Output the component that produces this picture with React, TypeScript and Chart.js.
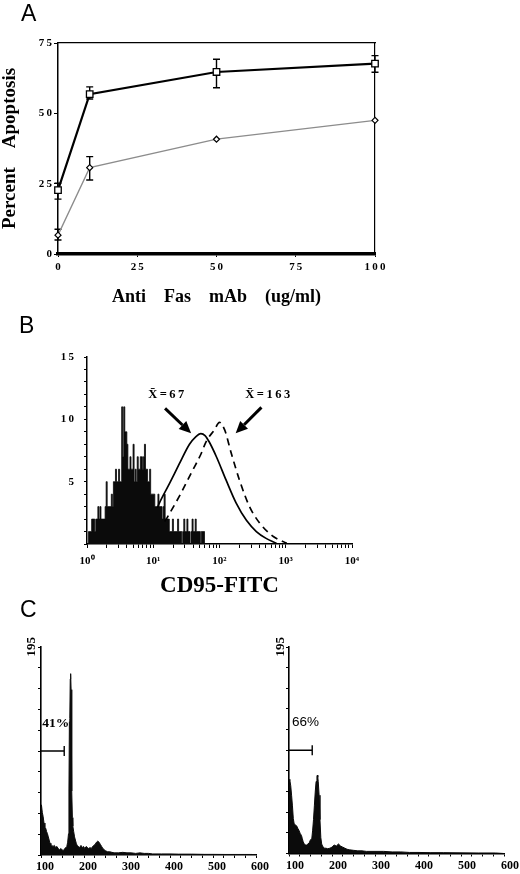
import React, { useEffect, useRef } from 'react';
import { Chart, registerables } from 'chart.js';

Chart.register(...registerables);

const SERIF = "'Liberation Serif', 'Times New Roman', serif";
const SANS = "'Liberation Sans', Arial, sans-serif";

// ---------------- Panel A: percent apoptosis vs anti-Fas mAb dose
const doseUgMl = [0, 10, 50, 100];
const apoptosisSquare = [22.7, 56.8, 64.7, 67.7];
const apoptosisSquareLow = [19.5, 55.1, 59.1, 64.6];
const apoptosisSquareHigh = [25.2, 59.4, 69.2, 70.5];
const apoptosisDiamond = [6.7, 30.7, 40.8, 47.5];
const apoptosisDiamondLow = [5.0, 26.3, null, null];
const apoptosisDiamondHigh = [8.8, 34.6, null, null];

// ---------------- Panel B: CD95-FITC histogram (channel units, 64 channels per decade)
const CH_PER_DECADE = 64;
const decadeLabels = ['10\u2070', '10\u00B9', '10\u00B2', '10\u00B3', '10\u2074'];
const isotypeCounts = [
  0, 0, 1, 1, 1, 2, 2, 2, 1, 2, 2, 3, 2, 3, 2, 2, 2, 2, 3, 5,
  3, 3, 3, 3, 4, 3, 5, 5, 6, 5, 5, 6, 5, 5, 11, 7, 11, 9, 9, 8,
  6, 6, 7, 6, 6, 8, 5, 6, 5, 7, 6, 6, 7, 7, 6, 7, 8, 6, 6, 5,
  5, 6, 4, 4, 4, 4, 3, 3, 3, 4, 3, 3, 3, 2, 3, 4, 2, 2, 2, 2,
  1, 1, 1, 2, 1, 1, 1, 1, 2, 1, 1, 1, 0, 1, 2, 1, 1, 2, 1, 1,
  0, 1, 2, 1, 1, 2, 1, 1, 1, 1, 0, 1, 1, 1, 0,
];
const solidCurveCh = [68, 70, 80, 89, 99, 105, 110, 114, 118, 125, 134.5, 144, 154, 163.6, 173, 183];
const solidCurveVal = [2.9, 3.3, 4.9, 6.4, 8.0, 8.6, 8.85, 8.7, 8.2, 7.0, 5.1, 3.3, 1.9, 1.0, 0.45, 0.05];
const dashedCurveCh = [75, 78, 89, 102, 110, 115, 123, 128, 133, 139.3, 147.4, 157, 167, 180, 193];
const dashedCurveVal = [1.8, 2.2, 3.8, 5.9, 7.2, 8.2, 9.15, 9.75, 9.15, 7.3, 5.1, 3.0, 1.66, 0.6, 0.05];
const meanNotes = [
  { text: 'X\u0304\u2009=\u20096\u20097', at: [76.6, 11.95], tail: [75.4, 10.88], tip: [100.6, 8.88] },
  { text: 'X\u0304\u2009=\u20091\u20096\u20093', at: [174.6, 11.95], tail: [168.5, 10.96], tip: [143.6, 8.88] },
];

// ---------------- Panel C: DNA content histograms
const dnaLeftCh = [100, 101, 103, 105, 107, 109, 111, 113, 115, 117, 119, 121, 123, 125, 128, 131, 134, 137, 140, 143, 146, 149, 152, 155, 158, 160, 162, 164, 165, 166, 167, 168, 169, 170, 171, 172, 173, 174, 176, 178, 180, 182, 184, 187, 190, 193, 196, 199, 202, 205, 208, 211, 214, 217, 220, 223, 226, 229, 232, 235, 238, 241, 244, 247, 250, 255, 260, 265, 270, 280, 290, 300, 310, 320, 330, 340, 350, 360, 380, 400, 420, 450, 480, 500, 530, 560, 590, 600];
const dnaLeftCounts = [45, 47, 40, 36, 30, 24, 25, 22, 20, 17, 14, 11, 10, 9, 8, 9, 7, 8, 6, 5, 6, 5, 4, 6, 7, 8, 12, 20, 60, 125, 128, 165, 170, 155, 110, 60, 35, 27, 22, 17, 14, 11, 9, 8, 7, 9, 7, 8, 6, 8, 7, 6, 7, 6, 8, 9, 10, 12, 13, 12, 10, 8, 6, 5, 4, 3, 3, 2.5, 2, 2, 2.5, 2, 2, 1.5, 2, 1.5, 1.5, 1, 1, 1, 0.8, 0.8, 0.6, 0.6, 0.5, 0.5, 0.5, 0];
const dnaRightCh = [100, 102, 104, 106, 108, 110, 112, 115, 118, 120, 123, 126, 129, 131, 133, 135, 138, 141, 144, 147, 150, 153, 155, 157, 159, 161, 163, 165, 166, 167, 168, 170, 172, 174, 176, 178, 182, 186, 190, 195, 200, 205, 210, 215, 220, 225, 230, 235, 240, 250, 260, 270, 280, 300, 320, 340, 360, 380, 400, 430, 460, 500, 540, 580, 600];
const dnaRightCounts = [70, 69, 64, 55, 45, 33, 28, 27, 26, 24, 22, 19, 17, 14, 11, 9.5, 8, 8, 9, 10, 13, 14, 22, 32, 45, 58, 68, 73, 74, 72, 68, 55, 32, 15, 9, 7, 5, 5, 4.5, 5, 6, 8, 7, 9, 7, 6, 5, 4, 3.5, 3, 2.5, 2.5, 2, 2, 2, 1.5, 1.5, 1, 1, 0.8, 0.8, 0.6, 0.5, 0.5, 0];
const gateLeft = { from: 100, to: 154, level: 97.5, label: '41%', labelAt: [103, 123] };
const gateRight = { from: 100, to: 154, level: 97.5, label: '66%', labelAt: [107, 124] };

const spaced = (v: number | string) => String(v).split('').join('\u2009');
const bold = (size: number) => ({ family: SERIF, size, weight: 'bold' as const });

const errorBarPlugin = {
  id: 'errorBars',
  beforeDatasetsDraw(chart: any) {
    const { ctx } = chart;
    const y = chart.scales.y;
    chart.data.datasets.forEach((ds: any, di: number) => {
      if (!ds.errLow) return;
      const meta = chart.getDatasetMeta(di);
      ctx.save();
      ctx.strokeStyle = '#000';
      ctx.lineWidth = 1.4;
      meta.data.forEach((pt: any, i: number) => {
        const lo = ds.errLow[i];
        const hi = ds.errHigh[i];
        if (lo == null || hi == null) return;
        const yl = y.getPixelForValue(lo);
        const yh = y.getPixelForValue(hi);
        ctx.beginPath();
        ctx.moveTo(pt.x, yl);
        ctx.lineTo(pt.x, yh);
        ctx.moveTo(pt.x - 3.5, yl);
        ctx.lineTo(pt.x + 3.5, yl);
        ctx.moveTo(pt.x - 3.5, yh);
        ctx.lineTo(pt.x + 3.5, yh);
        ctx.stroke();
      });
      ctx.restore();
    });
  },
};

const meanNotePlugin = {
  id: 'meanNotes',
  afterDatasetsDraw(chart: any) {
    const { ctx } = chart;
    const xs = chart.scales.x;
    const ys = chart.scales.y;
    ctx.save();
    meanNotes.forEach((n) => {
      ctx.font = `bold 12.5px ${SERIF}`;
      ctx.fillStyle = '#000';
      ctx.textAlign = 'center';
      ctx.textBaseline = 'middle';
      ctx.fillText(n.text, xs.getPixelForValue(n.at[0]), ys.getPixelForValue(n.at[1]));
      const x0 = xs.getPixelForValue(n.tail[0]);
      const y0 = ys.getPixelForValue(n.tail[1]);
      const x1 = xs.getPixelForValue(n.tip[0]);
      const y1 = ys.getPixelForValue(n.tip[1]);
      const ang = Math.atan2(y1 - y0, x1 - x0);
      const headLen = 12;
      const headHalf = 5.5;
      const bx = x1 - headLen * Math.cos(ang);
      const by = y1 - headLen * Math.sin(ang);
      ctx.strokeStyle = '#000';
      ctx.lineWidth = 3;
      ctx.beginPath();
      ctx.moveTo(x0, y0);
      ctx.lineTo(bx, by);
      ctx.stroke();
      ctx.beginPath();
      ctx.moveTo(x1, y1);
      ctx.lineTo(bx + headHalf * Math.sin(ang), by - headHalf * Math.cos(ang));
      ctx.lineTo(bx - headHalf * Math.sin(ang), by + headHalf * Math.cos(ang));
      ctx.closePath();
      ctx.fill();
    });
    ctx.restore();
  },
};

const makeGatePlugin = (gate: any, font: string) => ({
  id: 'gate',
  afterDatasetsDraw(chart: any) {
    const { ctx } = chart;
    const xs = chart.scales.x;
    const ys = chart.scales.y;
    const x0 = xs.getPixelForValue(gate.from);
    const x1 = xs.getPixelForValue(gate.to);
    const yy = ys.getPixelForValue(gate.level);
    ctx.save();
    ctx.strokeStyle = '#000';
    ctx.lineWidth = 1.4;
    ctx.beginPath();
    ctx.moveTo(x0, yy);
    ctx.lineTo(x1, yy);
    ctx.moveTo(x1, yy - 5);
    ctx.lineTo(x1, yy + 5);
    ctx.stroke();
    ctx.font = font;
    ctx.fillStyle = '#000';
    ctx.textAlign = 'left';
    ctx.textBaseline = 'middle';
    ctx.fillText(gate.label, xs.getPixelForValue(gate.labelAt[0]), ys.getPixelForValue(gate.labelAt[1]));
    ctx.restore();
  },
});

function configA(): any {
  return {
    type: 'line',
    data: {
      datasets: [
        {
          data: doseUgMl.map((x, i) => ({ x, y: apoptosisSquare[i] })),
          errLow: apoptosisSquareLow,
          errHigh: apoptosisSquareHigh,
          borderColor: '#000',
          borderWidth: 2.2,
          pointStyle: 'rect',
          pointRadius: 4.6,
          pointBackgroundColor: '#fff',
          pointBorderColor: '#000',
          pointBorderWidth: 1.3,
          clip: 8,
        },
        {
          data: doseUgMl.map((x, i) => ({ x, y: apoptosisDiamond[i] })),
          errLow: apoptosisDiamondLow,
          errHigh: apoptosisDiamondHigh,
          borderColor: '#8c8c8c',
          borderWidth: 1.3,
          pointStyle: 'rectRot',
          pointRadius: 3,
          pointBackgroundColor: '#fff',
          pointBorderColor: '#000',
          pointBorderWidth: 1.2,
          clip: 8,
        },
      ],
    },
    options: {
      responsive: false,
      animation: false,
      maintainAspectRatio: false,
      layout: { padding: { left: 0, top: 43, right: 145, bottom: 0 } },
      plugins: { legend: { display: false }, tooltip: { enabled: false } },
      scales: {
        x: {
          type: 'linear',
          min: 0,
          max: 100,
          afterFit: (s: any) => { s.height = 56; },
          ticks: { stepSize: 25, font: bold(11), color: '#000', padding: 3.4, maxRotation: 0, callback: (v: number) => spaced(v) },
          grid: { display: true, drawOnChartArea: false, tickLength: 3, color: '#000' },
          border: { color: '#000', width: 3.5 },
          title: { display: true, text: 'Anti    Fas    mAb    (ug/ml)', font: bold(18), color: '#000', padding: { top: 0, bottom: 2 } },
        },
        y: {
          type: 'linear',
          min: 0,
          max: 75,
          afterFit: (s: any) => { s.width = 58; },
          ticks: { stepSize: 25, font: bold(11), color: '#000', padding: 2, callback: (v: number) => spaced(v) },
          grid: { display: true, drawOnChartArea: false, tickLength: 4, color: '#000' },
          border: { color: '#000', width: 1.5 },
          title: { display: true, text: 'Percent    Apoptosis', font: { ...bold(19), lineHeight: 1.1 }, color: '#000', padding: { top: 0, bottom: 0 } },
        },
        xTop: {
          type: 'linear',
          position: 'top',
          min: 0,
          max: 100,
          afterFit: (s: any) => { s.height = 0; },
          ticks: { display: false },
          grid: { display: false },
          border: { display: true, color: '#000', width: 1.2 },
        },
        yRight: {
          type: 'linear',
          position: 'right',
          min: 0,
          max: 75,
          afterFit: (s: any) => { s.width = 0; },
          ticks: { display: false },
          grid: { display: false },
          border: { display: true, color: '#000', width: 1.2 },
        },
      },
    },
    plugins: [errorBarPlugin],
  };
}

function configB(): any {
  return {
    type: 'line',
    data: {
      datasets: [
        {
          data: solidCurveCh.map((x, i) => ({ x, y: solidCurveVal[i] })),
          borderColor: '#000',
          borderWidth: 1.7,
          pointRadius: 0,
          cubicInterpolationMode: 'monotone',
        },
        {
          data: dashedCurveCh.map((x, i) => ({ x, y: dashedCurveVal[i] })),
          borderColor: '#000',
          borderWidth: 1.7,
          borderDash: [7, 5],
          pointRadius: 0,
          cubicInterpolationMode: 'monotone',
        },
        {
          data: isotypeCounts.map((y, ch) => ({ x: ch, y })),
          stepped: 'middle',
          fill: 'origin',
          backgroundColor: '#0b0b0b',
          borderColor: '#0b0b0b',
          borderWidth: 0.8,
          pointRadius: 0,
        },
      ],
    },
    options: {
      responsive: false,
      animation: false,
      maintainAspectRatio: false,
      layout: { padding: { left: 0, top: 57, right: 168, bottom: 0 } },
      plugins: { legend: { display: false }, tooltip: { enabled: false } },
      scales: {
        x: {
          type: 'linear',
          min: 0,
          max: 4 * CH_PER_DECADE,
          afterBuildTicks: (s: any) => {
            const t: any[] = [];
            for (let d = 0; d < 4; d++) for (let k = 1; k < 10; k++) t.push({ value: CH_PER_DECADE * (d + Math.log10(k)) });
            t.push({ value: 4 * CH_PER_DECADE });
            s.ticks = t;
          },
          afterFit: (s: any) => { s.height = 56; },
          ticks: {
            autoSkip: false,
            maxRotation: 0,
            minRotation: 0,
            font: bold(11),
            color: '#000',
            padding: 6.9,
            callback: (v: number) => {
              const d = v / CH_PER_DECADE;
              return Number.isInteger(d) ? decadeLabels[d] : '';
            },
          },
          grid: { display: true, drawOnChartArea: false, tickLength: 4, color: '#000' },
          border: { color: '#000', width: 1.5 },
          title: { display: true, text: 'CD95-FITC', font: bold(23), color: '#000', padding: { top: 0, bottom: 0 } },
        },
        y: {
          type: 'linear',
          min: 0,
          max: 15,
          afterFit: (s: any) => { s.width = 87; },
          ticks: {
            stepSize: 1,
            autoSkip: false,
            font: bold(11),
            color: '#000',
            padding: 10,
            callback: (v: number) => (v > 0 && v % 5 === 0 ? spaced(v) : ''),
          },
          grid: { display: true, drawOnChartArea: false, tickLength: 3, color: '#000' },
          border: { color: '#000', width: 1.5 },
        },
      },
    },
    plugins: [meanNotePlugin],
  };
}

function configC(ch: number[], counts: number[], gate: any, gateFont: string, dims: any): any {
  return {
    type: 'line',
    data: {
      datasets: [
        {
          data: ch.map((x, i) => ({ x, y: counts[i] })),
          fill: 'origin',
          backgroundColor: '#0b0b0b',
          borderColor: '#0b0b0b',
          borderWidth: 1,
          pointRadius: 0,
          tension: 0,
        },
      ],
    },
    options: {
      responsive: false,
      animation: false,
      maintainAspectRatio: false,
      layout: { padding: { left: 0, top: dims.top, right: dims.right, bottom: 0 } },
      plugins: { legend: { display: false }, tooltip: { enabled: false } },
      scales: {
        x: {
          type: 'linear',
          min: 100,
          max: 600,
          afterFit: (s: any) => { s.height = dims.xHeight; },
          ticks: {
            stepSize: 25,
            autoSkip: false,
            maxRotation: 0,
            font: bold(12),
            color: '#000',
            padding: dims.xPad,
            labelOffset: dims.labelOffset,
            callback: (v: number) => (v % 100 === 0 ? String(v) : ''),
          },
          grid: { display: true, drawOnChartArea: false, tickLength: 3, color: '#000' },
          border: { color: '#000', width: 1.6 },
        },
        y: {
          type: 'linear',
          min: 0,
          max: 195,
          afterFit: (s: any) => { s.width = dims.yWidth; },
          ticks: {
            stepSize: 19.5,
            autoSkip: false,
            minRotation: 90,
            maxRotation: 90,
            labelOffset: -10,
            font: bold(13),
            color: '#000',
            padding: dims.yPad,
            callback: (v: number) => (v === 195 ? '195' : ''),
          },
          grid: { display: true, drawOnChartArea: false, tickLength: 3, color: '#000' },
          border: { color: '#000', width: 1.6 },
        },
      },
    },
    plugins: [makeGatePlugin(gate, gateFont)],
  };
}

export default function App() {
  const refA = useRef<HTMLCanvasElement | null>(null);
  const refB = useRef<HTMLCanvasElement | null>(null);
  const refC1 = useRef<HTMLCanvasElement | null>(null);
  const refC2 = useRef<HTMLCanvasElement | null>(null);

  useEffect(() => {
    Chart.defaults.font.family = SERIF;
    Chart.defaults.color = '#000';
    const charts: Chart[] = [];
    if (refA.current) charts.push(new Chart(refA.current, configA()));
    if (refB.current) charts.push(new Chart(refB.current, configB()));
    if (refC1.current)
      charts.push(
        new Chart(
          refC1.current,
          configC(dnaLeftCh, dnaLeftCounts, gateLeft, `bold 13.5px ${SERIF}`, {
            top: 47, right: 14, xHeight: 19, xPad: 1.8, labelOffset: 4, yWidth: 41, yPad: 6.5,
          })
        )
      );
    if (refC2.current)
      charts.push(
        new Chart(
          refC2.current,
          configC(dnaRightCh, dnaRightCounts, gateRight, `13.5px ${SANS}`, {
            top: 47, right: 16, xHeight: 20.5, xPad: 2.3, labelOffset: 6, yWidth: 19, yPad: 5,
          })
        )
      );
    return () => charts.forEach((c) => c.destroy());
  }, []);

  const letter = (t: string, left: number, top: number) => (
    <div
      style={{
        position: 'absolute',
        left,
        top,
        fontFamily: SANS,
        fontSize: 23,
        lineHeight: '23px',
        color: '#000',
      }}
    >
      {t}
    </div>
  );

  return (
    <div style={{ position: 'absolute', left: 0, top: 0, width: 520, height: 874, background: '#fff', overflow: 'hidden' }}>
      <canvas ref={refA} width={520} height={310} style={{ position: 'absolute', left: 0, top: 0 }} />
      <canvas ref={refB} width={520} height={300} style={{ position: 'absolute', left: 0, top: 300 }} />
      <canvas ref={refC1} width={270} height={274} style={{ position: 'absolute', left: 0, top: 600 }} />
      <canvas ref={refC2} width={250} height={274} style={{ position: 'absolute', left: 270, top: 600 }} />
      {letter('A', 21, 2)}
      {letter('B', 19, 314)}
      {letter('C', 20, 598)}
    </div>
  );
}
